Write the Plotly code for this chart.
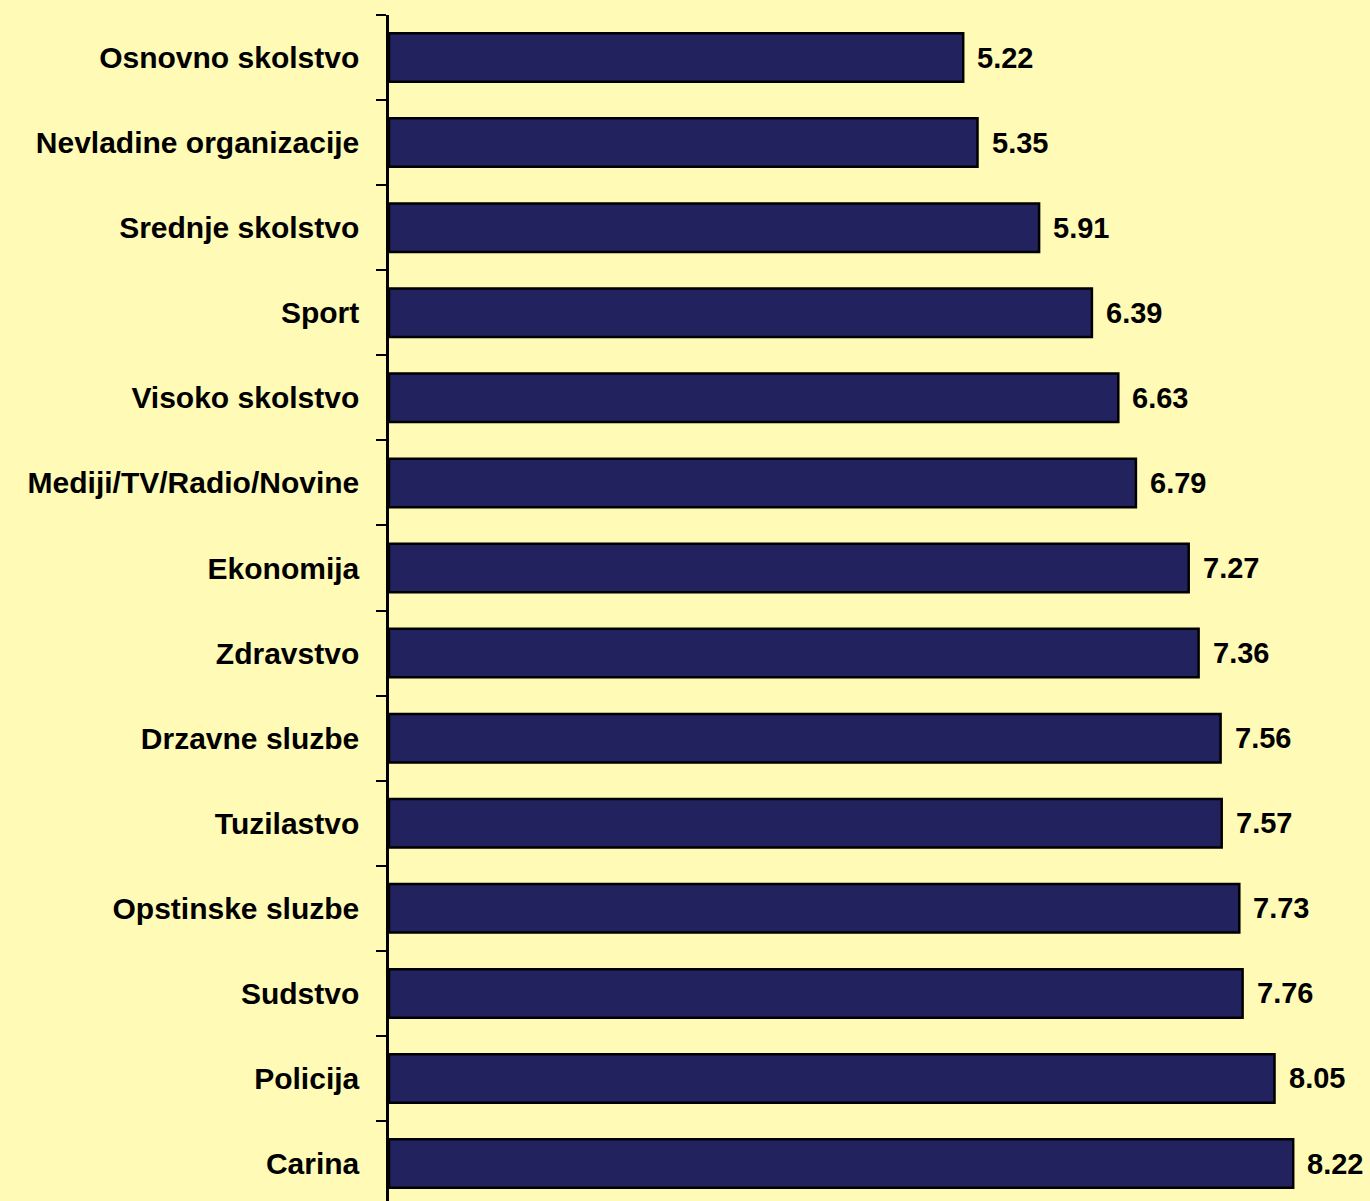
import plotly.graph_objects as go

categories = ["Osnovno skolstvo", "Nevladine organizacije", "Srednje skolstvo", "Sport",
              "Visoko skolstvo", "Mediji/TV/Radio/Novine", "Ekonomija", "Zdravstvo",
              "Drzavne sluzbe", "Tuzilastvo", "Opstinske sluzbe", "Sudstvo", "Policija", "Carina"]
values = [5.22, 5.35, 5.91, 6.39, 6.63, 6.79, 7.27, 7.36, 7.56, 7.57, 7.73, 7.76, 8.05, 8.22]
value_labels = [f"{v:.2f}" for v in values]

BG = "#FFFAB5"
BAR = "#22225F"
FONT = "Liberation Sans, Arial, sans-serif"

fig = go.Figure()
fig.add_trace(go.Bar(
    x=values, y=categories, orientation="h",
    width=0.57,
    marker=dict(color=BAR, line=dict(color="black", width=2.5)),
    hoverinfo="skip",
))

for c, v, t in zip(categories, values, value_labels):
    fig.add_annotation(x=v, y=c, text=f"<b>{t}</b>", showarrow=False, xanchor="left",
                       xshift=12, font=dict(family=FONT, size=29, color="black"))

fig.update_layout(
    width=1370, height=1201,
    margin=dict(l=389, r=0, t=15, b=0, pad=0),
    paper_bgcolor=BG, plot_bgcolor=BG,
    showlegend=False,
    bargap=0.43,
    font=dict(family=FONT, size=30, color="black"),
)
fig.update_xaxes(range=[0, 981 / 110], visible=False, showgrid=False, zeroline=False)
fig.update_yaxes(
    type="category", categoryorder="array", categoryarray=categories,
    tickmode="array", tickvals=categories, ticktext=[f"<b>{c}</b>" for c in categories],
    range=[13.44, -0.5],
    showline=True, linecolor="black", linewidth=2.5,
    ticks="outside", tickson="boundaries", ticklen=10, tickwidth=2, tickcolor="black",
    ticklabelstandoff=21,
    showgrid=False, zeroline=False,
    tickfont=dict(family=FONT, size=30, color="black"),
)

fig.write_html("out.html", config={"displayModeBar": False},
               post_script="document.body.style.margin='0';document.body.style.background='" + BG + "';")
